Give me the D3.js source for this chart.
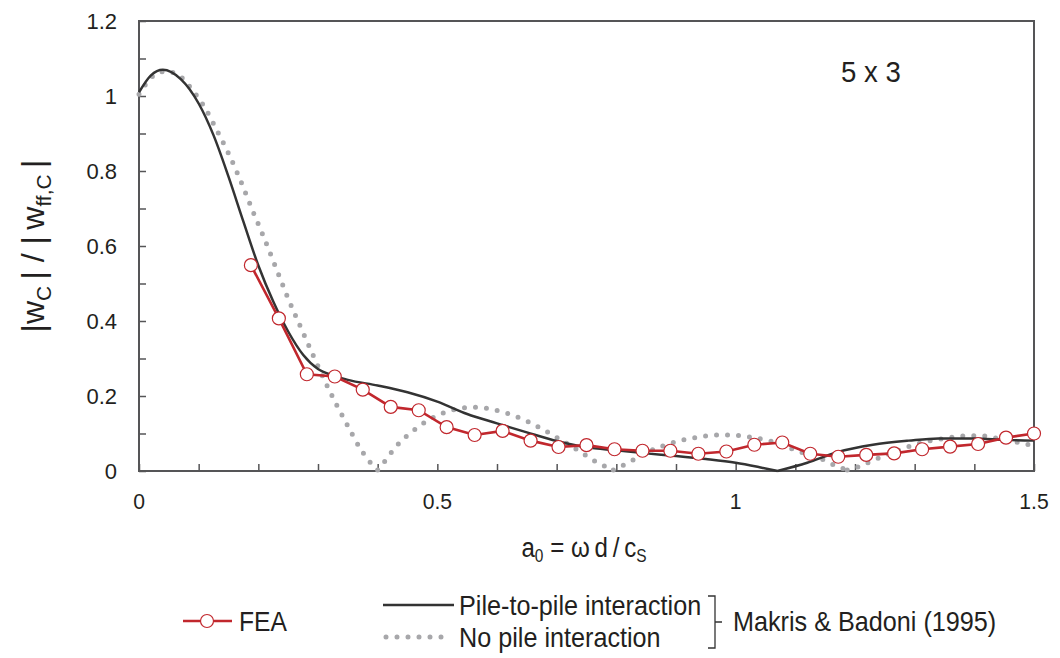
<!DOCTYPE html>
<html>
<head>
<meta charset="utf-8">
<script src="https://cdn.jsdelivr.net/npm/d3@7"></script>
<style>
  html, body { margin: 0; padding: 0; background: #fff; }
  svg { display: block; }
  text { font-family: "Liberation Sans", Arial, sans-serif; fill: #231f20; }
</style>
</head>
<body>
<svg id="chart" width="1060" height="658"></svg>
<script>
// FEA results: a0 sampled every 1.5/32
const feaA0 = [0.1875, 0.2344, 0.2813, 0.3281, 0.375, 0.4219, 0.4688, 0.5156, 0.5625, 0.6094,
  0.6563, 0.7031, 0.75, 0.7969, 0.8438, 0.8906, 0.9375, 0.9844, 1.0313, 1.0781,
  1.125, 1.1719, 1.2188, 1.2656, 1.3125, 1.3594, 1.4063, 1.4531, 1.5];
const feaRatio = [0.549, 0.407, 0.258, 0.252, 0.217, 0.171, 0.162, 0.117, 0.096, 0.107,
  0.081, 0.064, 0.069, 0.058, 0.054, 0.054, 0.046, 0.052, 0.070, 0.076,
  0.046, 0.038, 0.043, 0.047, 0.058, 0.065, 0.072, 0.089, 0.100];

// Makris & Badoni (1995), pile-to-pile interaction
const pileA0 = [0, 0.02, 0.04, 0.07, 0.10, 0.125, 0.15, 0.175, 0.20, 0.225, 0.25, 0.275, 0.30,
  0.325, 0.35, 0.40, 0.45, 0.50, 0.55, 0.60, 0.65, 0.70, 0.75, 0.80, 0.85, 0.90, 0.95,
  1.00, 1.04, 1.07, 1.12, 1.17, 1.23, 1.29, 1.34, 1.40, 1.45, 1.50];
const pileRatio = [1.01, 1.055, 1.07, 1.045, 0.98, 0.895, 0.785, 0.665, 0.548, 0.452, 0.372, 0.31, 0.272,
  0.255, 0.243, 0.228, 0.21, 0.185, 0.152, 0.127, 0.103, 0.08, 0.063, 0.055, 0.047, 0.04, 0.032,
  0.022, 0.01, 0.0, 0.022, 0.05, 0.07, 0.081, 0.087, 0.087, 0.083, 0.081];

// Makris & Badoni (1995), no pile interaction
const freeA0 = [0, 0.025, 0.045, 0.065, 0.09, 0.11, 0.13, 0.15, 0.17, 0.19, 0.21, 0.23, 0.25, 0.27,
  0.29, 0.31, 0.33, 0.35, 0.37, 0.385, 0.40, 0.41, 0.43, 0.45, 0.47, 0.50, 0.53, 0.56, 0.59,
  0.62, 0.65, 0.68, 0.71, 0.74, 0.77, 0.795, 0.82, 0.85, 0.88, 0.91, 0.94, 0.97, 1.00, 1.03,
  1.06, 1.09, 1.12, 1.15, 1.17, 1.187, 1.205, 1.23, 1.26, 1.29, 1.32, 1.35, 1.38, 1.41, 1.44,
  1.47, 1.50];
const freeRatio = [1.005, 1.055, 1.066, 1.057, 1.015, 0.97, 0.91, 0.847, 0.775, 0.696, 0.62, 0.54, 0.46, 0.387,
  0.315, 0.245, 0.18, 0.12, 0.062, 0.028, 0.003, 0.022, 0.064, 0.095, 0.12, 0.148, 0.164, 0.170, 0.165,
  0.152, 0.133, 0.108, 0.080, 0.051, 0.021, 0.003, 0.022, 0.049, 0.068, 0.082, 0.091, 0.096, 0.095, 0.089,
  0.079, 0.062, 0.044, 0.028, 0.012, 0.003, 0.011, 0.028, 0.047, 0.065, 0.079, 0.087, 0.093, 0.094, 0.087,
  0.077, 0.067];

const xTickLabels = [0, 0.5, 1, 1.5];
const yTickLabels = [0, 0.2, 0.4, 0.6, 0.8, 1, 1.2];

const svg = d3.select("#chart");
const M = { left: 139, top: 21, right: 1034, bottom: 471 };

const x = d3.scaleLinear().domain([0, 1.5]).range([M.left, M.right]);
const y = d3.scaleLinear().domain([0, 1.2]).range([M.bottom, M.top]);

const frameColor = "#555557";
const red = "#c1272d";
const dark = "#333333";
const grey = "#a7a7aa";

// Plot frame
svg.append("rect")
  .attr("x", M.left).attr("y", M.top)
  .attr("width", M.right - M.left).attr("height", M.bottom - M.top)
  .attr("fill", "none").attr("stroke", frameColor).attr("stroke-width", 2);

// Inward ticks every 0.1
const xAxis = d3.axisBottom(x).tickValues(d3.range(0, 1.5001, 0.1)).tickSize(-7).tickFormat("");
const gx = svg.append("g").attr("transform", `translate(0,${M.bottom})`).call(xAxis);
gx.select(".domain").remove();
gx.selectAll("line").attr("stroke", frameColor).attr("stroke-width", 1.5);

const yAxis = d3.axisLeft(y).tickValues(d3.range(0, 1.2001, 0.1)).tickSize(-7).tickFormat("");
const gy = svg.append("g").attr("transform", `translate(${M.left},0)`).call(yAxis);
gy.select(".domain").remove();
gy.selectAll("line").attr("stroke", frameColor).attr("stroke-width", 1.5);

// Condensed text: a horizontally squeezed run of Liberation Sans
function narrowText(parent, px, py, size, squeeze, anchor) {
  return parent.append("text")
    .attr("transform", `translate(${px},${py}) scale(${squeeze},1)`)
    .attr("text-anchor", anchor || "start")
    .attr("font-size", size);
}

// Tick labels
svg.append("g").selectAll("text").data(xTickLabels).join("text")
  .attr("transform", d => `translate(${x(d)},${M.bottom + 38}) scale(0.94,1)`)
  .attr("text-anchor", "middle").attr("font-size", 22.5)
  .text(d => d3.format("")(d));

svg.append("g").selectAll("text").data(yTickLabels).join("text")
  .attr("x", 117).attr("y", d => y(d) + 8)
  .attr("text-anchor", "end").attr("font-size", 22)
  .text(d => d3.format("")(d));

// Split a curve at its zero-touching minima so the cusps stay sharp
function segments(xs, ys) {
  const pts = xs.map((d, i) => [d, ys[i]]);
  const out = [];
  let cur = [pts[0]];
  for (let i = 1; i < pts.length; i++) {
    cur.push(pts[i]);
    const isCusp = i < pts.length - 1 && pts[i][1] < 0.01 && pts[i][1] <= pts[i - 1][1] && pts[i][1] <= pts[i + 1][1];
    if (isCusp) { out.push(cur); cur = [pts[i]]; }
  }
  out.push(cur);
  return out;
}

const smooth = d3.line().x(d => x(d[0])).y(d => y(d[1])).curve(d3.curveMonotoneX);

// No pile interaction (dotted)
const freeSegs = segments(freeA0, freeRatio);
svg.append("path")
  .attr("d", freeSegs.map(s => smooth(s)).join(""))
  .attr("fill", "none").attr("stroke", grey).attr("stroke-width", 5)
  .attr("stroke-linecap", "round").attr("stroke-dasharray", "0 11");

// Pile-to-pile interaction (solid)
const pileSegs = segments(pileA0, pileRatio);
svg.append("path")
  .attr("d", pileSegs.map(s => smooth(s)).join(""))
  .attr("fill", "none").attr("stroke", dark).attr("stroke-width", 2.5);

// FEA
const fea = feaA0.map((d, i) => [d, feaRatio[i]]);
svg.append("path")
  .attr("d", d3.line().x(d => x(d[0])).y(d => y(d[1]))(fea))
  .attr("fill", "none").attr("stroke", red).attr("stroke-width", 2.6);
svg.append("g").selectAll("circle").data(fea).join("circle")
  .attr("cx", d => x(d[0])).attr("cy", d => y(d[1])).attr("r", 6.5)
  .attr("fill", "#fff").attr("stroke", red).attr("stroke-width", 1.2);

// Group label
narrowText(svg, 871, 82, 30, 0.92, "middle").text("5 x 3");

// Axis titles
const xt = narrowText(svg, 584, 557, 28, 0.86, "middle");
xt.append("tspan").text("a");
xt.append("tspan").attr("font-size", 18).attr("dy", 5).text("0");
xt.append("tspan").attr("dy", -5).text(" = \u03c9\u2009d\u2009/\u2009c");
xt.append("tspan").attr("font-size", 18).attr("dy", 5).text("S");

const yt = svg.append("text").attr("transform", "translate(44,246) rotate(-90)")
  .attr("text-anchor", "middle").attr("font-size", 32);
yt.append("tspan").text("|w");
yt.append("tspan").attr("font-size", 21).attr("dy", 7).text("C");
yt.append("tspan").attr("dy", -7).text("\u2009| / |\u2009w");
yt.append("tspan").attr("font-size", 21).attr("dy", 7).text("ff,C");
yt.append("tspan").attr("dy", -7).text("\u2009|");

// Legend
const lg = svg.append("g");
lg.append("line").attr("x1", 183).attr("x2", 232).attr("y1", 621).attr("y2", 621)
  .attr("stroke", red).attr("stroke-width", 2.6);
lg.append("circle").attr("cx", 207).attr("cy", 621).attr("r", 6.5)
  .attr("fill", "#fff").attr("stroke", red).attr("stroke-width", 1.2);
narrowText(lg, 239, 631, 28, 0.88).text("FEA");

lg.append("line").attr("x1", 383).attr("x2", 454).attr("y1", 605).attr("y2", 605)
  .attr("stroke", dark).attr("stroke-width", 2.5);
narrowText(lg, 459, 615, 28, 0.9).text("Pile-to-pile interaction");

lg.append("line").attr("x1", 386).attr("x2", 452).attr("y1", 637).attr("y2", 637)
  .attr("stroke", grey).attr("stroke-width", 5).attr("stroke-linecap", "round")
  .attr("stroke-dasharray", "0 11");
narrowText(lg, 459, 647, 28, 0.9).text("No pile interaction");

// Bracket grouping the two reference curves
lg.append("path")
  .attr("d", "M708,596 H715 V648 H708 M715,622 H722")
  .attr("fill", "none").attr("stroke", dark).attr("stroke-width", 1.3);
narrowText(lg, 733, 631, 28, 0.9).text("Makris & Badoni (1995)");
</script>
</body>
</html>
